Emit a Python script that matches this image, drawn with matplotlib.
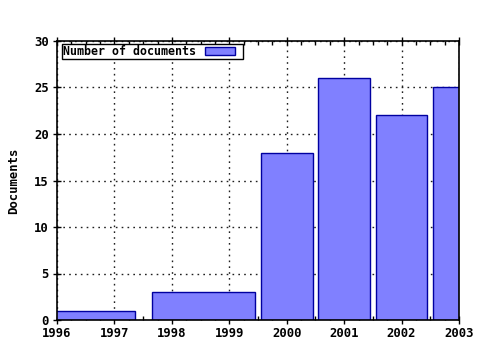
import matplotlib
matplotlib.use("Agg")
import matplotlib.pyplot as plt
import matplotlib.patches as mpatches
from matplotlib.container import BarContainer
from matplotlib.legend_handler import HandlerPatch, update_from_first_child
from matplotlib.ticker import MultipleLocator
from matplotlib.font_manager import FontProperties

# Data
bar_x = [1996.46, 1998.55, 2000.0, 2001.0, 2002.0, 2003.0]
counts = [1, 3, 18, 26, 22, 25]
bar_widths = [1.8, 1.8, 0.9, 0.9, 0.9, 0.9]
year_ticks = [1996, 1997, 1998, 1999, 2000, 2001, 2002, 2003]
y_ticks = [0, 5, 10, 15, 20, 25, 30]
series_label = "Number of documents"
y_label = "Documents"

FONT = dict(family="DejaVu Sans Mono", weight="bold", size=8.8)
LEGFONT = dict(family="DejaVu Sans Mono", weight="bold", size=8.4)
plt.rcParams["font.family"] = "DejaVu Sans Mono"
plt.rcParams["font.weight"] = "bold"
plt.rcParams["font.size"] = 9

fig = plt.figure(figsize=(4.8, 3.5), dpi=100)
ax = fig.add_axes([57 / 480, 1 - 320 / 350, (459 - 57) / 480, (320 - 41) / 350])

ax.bar(bar_x, counts, width=bar_widths, color="#8080ff", edgecolor="#0000a0",
       linewidth=1.0, label=series_label, zorder=2)

ax.set_xlim(year_ticks[0], year_ticks[-1])
ax.set_ylim(y_ticks[0], y_ticks[-1])
ax.set_xticks(year_ticks)
ax.set_xticklabels([str(y) for y in year_ticks])
ax.set_yticks(y_ticks)
ax.xaxis.set_minor_locator(MultipleLocator(0.25))

ax.grid(True, which="major", color="#202020", linestyle=(0, (1.2, 3)), linewidth=1.0, zorder=1)
ax.set_axisbelow(True)

ax.tick_params(axis="x", which="major", direction="inout", length=6, width=1,
               top=True, bottom=True, pad=2)
ax.tick_params(axis="x", which="minor", direction="in", length=3, width=1,
               top=True, bottom=True)
ax.tick_params(axis="y", which="major", direction="inout", length=6, width=1,
               left=True, right=False, pad=3)
for lbl in ax.get_xticklabels() + ax.get_yticklabels():
    lbl.set_fontproperties(FontProperties(**FONT))

for sp in ax.spines.values():
    sp.set_linewidth(1.2)
    sp.set_color("black")
    sp.set_zorder(3)

ax.set_ylabel(y_label, fontdict=FONT, labelpad=10)


def sample_box(legend, orig_handle, xdescent, ydescent, width, height, fontsize):
    return mpatches.Rectangle((-xdescent, -ydescent), width * 0.8, height)


leg = ax.legend(loc="upper left", bbox_to_anchor=((62 - 57) / 402, 1 - 3 / 279),
                frameon=True, fancybox=False, markerfirst=False,
                handlelength=3.2, handleheight=0.65, borderpad=0.08, borderaxespad=0,
                handletextpad=0.75, prop=FontProperties(**LEGFONT),
                handler_map={BarContainer: HandlerPatch(patch_func=sample_box,
                                                        update_func=update_from_first_child)})
leg.get_frame().set_edgecolor("black")
leg.get_frame().set_linewidth(1.0)
leg.get_frame().set_alpha(1)

fig.savefig("out.png", dpi=100)
